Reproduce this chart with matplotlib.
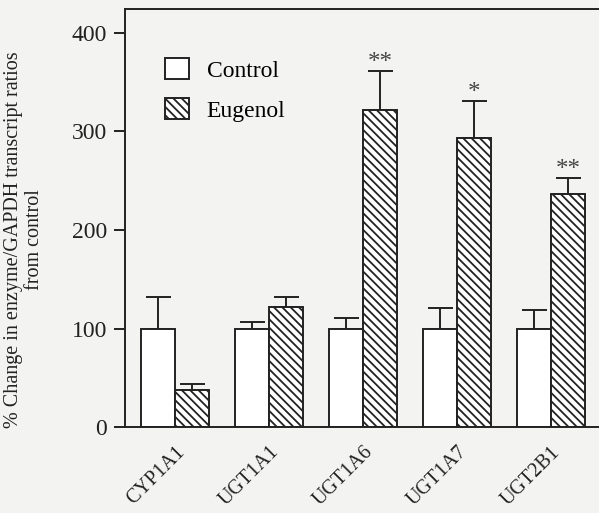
import matplotlib
matplotlib.use("Agg")
import matplotlib.pyplot as plt
import numpy as np
from matplotlib.patches import Patch

genes = ["CYP1A1", "UGT1A1", "UGT1A6", "UGT1A7", "UGT2B1"]
control = [100, 100, 100, 100, 100]
control_err = [32, 7, 11, 21, 19]
eugenol = [38, 122, 322, 293, 237]
eugenol_err = [6, 10, 39, 38, 16]
signif = ["", "", "**", "*", "**"]
yticks = [0, 100, 200, 300, 400]

plt.rcParams['font.family'] = ['Liberation Serif', 'DejaVu Serif']
plt.rcParams['hatch.linewidth'] = 1.3

ink = '#222222'
fig = plt.figure(figsize=(5.99, 5.13), dpi=100)
bg = '#f3f3f1'
fig.patch.set_facecolor(bg)
ax = fig.add_axes([0.2087, 0.1667, 0.7913, 0.8158])
ax.set_facecolor(bg)

x = np.arange(len(genes))
w = 0.36
hatch = '\\\\\\\\'
ax.bar(x - w/2, control, w, color='white', edgecolor=ink, linewidth=1.4, zorder=2)
ax.bar(x + w/2, eugenol, w, color='white', edgecolor=ink, linewidth=1.4,
       hatch=hatch, zorder=2)
ax.errorbar(x - w/2, control, yerr=[np.zeros(len(x)), control_err], fmt='none',
            ecolor=ink, elinewidth=1.4, capsize=9, capthick=1.4, zorder=1)
ax.errorbar(x + w/2, eugenol, yerr=[np.zeros(len(x)), eugenol_err], fmt='none',
            ecolor=ink, elinewidth=1.4, capsize=9, capthick=1.4, zorder=1)
for xi, v, e, s in zip(x, eugenol, eugenol_err, signif):
    if s:
        ax.text(xi + w/2, v + e + 2, s, ha='center', va='baseline', fontsize=18,
                color='#444444')

ax.set_xlim(-0.532, 4.511)
ax.set_ylim(0, 424)
ax.set_yticks(yticks)
ax.set_yticklabels([str(t) for t in yticks])
ax.set_xticks(x)
ax.set_xticklabels(genes, rotation=45, ha='right', va='top', rotation_mode='anchor')
ax.tick_params(axis='x', length=0, pad=11, labelsize=14.5, colors=ink)
ax.tick_params(axis='y', length=8, width=1.4, direction='out', labelsize=17,
               colors=ink, pad=5)
for sp in ['left', 'bottom', 'top']:
    ax.spines[sp].set_linewidth(1.4)
    ax.spines[sp].set_color(ink)
ax.spines['right'].set_visible(False)

fig.text(24/599, 1 - 240/513,
         "% Change in enzyme/GAPDH transcript ratios\nfrom control",
         rotation=90, ha='center', va='center', fontsize=14.5, linespacing=1.2,
         color=ink)

handles = [Patch(facecolor='white', edgecolor=ink, linewidth=1.4, label='Control'),
           Patch(facecolor='white', edgecolor=ink, linewidth=1.4, hatch=hatch,
                 label='Eugenol')]
ax.legend(handles=handles, loc='upper left', bbox_to_anchor=(0.045, 0.928), frameon=False,
          fontsize=17, handlelength=1.0, handleheight=1.0, handletextpad=0.75,
          labelspacing=0.7, borderpad=0.3)

fig.savefig("out.png", dpi=100, facecolor=bg)
